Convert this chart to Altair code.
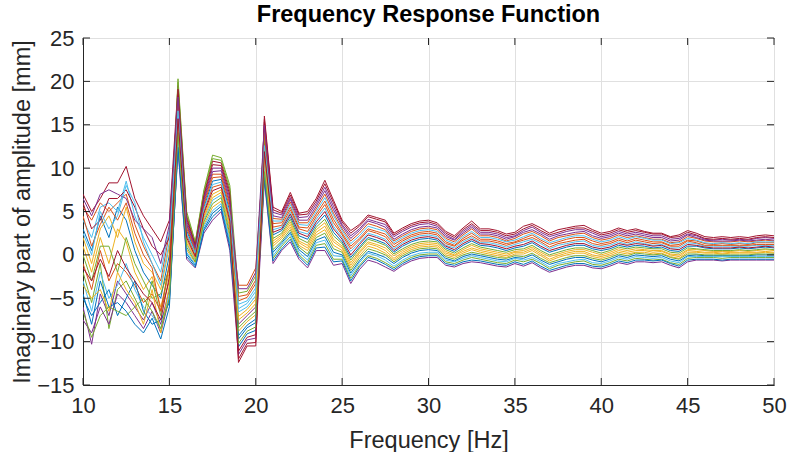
import altair as alt
import pandas as pd

# Frequency grid (Hz)
freq = [10.0, 10.5, 11.0, 11.5, 12.0, 12.5, 13.0, 13.5, 14.0, 14.5,
        15.0, 15.5, 16.0, 16.5, 17.0, 17.5, 18.0, 18.5, 19.0, 19.5,
        20.0, 20.5, 21.0, 21.5, 22.0, 22.5, 23.0, 23.5, 24.0, 24.5,
        25.0, 25.5, 26.0, 26.5, 27.0, 27.5, 28.0, 28.5, 29.0, 29.5,
        30.0, 30.5, 31.0, 31.5, 32.0, 32.5, 33.0, 33.5, 34.0, 34.5,
        35.0, 35.5, 36.0, 36.5, 37.0, 37.5, 38.0, 38.5, 39.0, 39.5,
        40.0, 40.5, 41.0, 41.5, 42.0, 42.5, 43.0, 43.5, 44.0, 44.5,
        45.0, 45.5, 46.0, 46.5, 47.0, 47.5, 48.0, 48.5, 49.0, 49.5, 50.0]

# Imaginary part of amplitude [mm], one list per measured response
line01 = [3.0, 0.5, 4.5, 2.0, 5.5, 4.0, 0.5, -2.0, -3.5, -5.0, 0.0,
          17.0, 2.8, 0.3, 5.5, 8.5, 8.7, 5.0, -9.7, -8.4, -7.8, 13.0,
          2.3, 2.8, 4.4, 2.2, 1.8, 3.5, 4.6, 2.6, 1.5, -0.3, 0.9, 2.0, 1.7, 1.3, 0.3, 1.0, 1.5, 1.8, 1.9, 1.7,
          0.8, 0.4, 1.1, 1.6, 1.1, 1.0, 0.8, 0.5, 0.8, 1.0, 1.4, 0.8, 0.3, 0.6, 0.9, 1.1, 1.1, 0.7, 0.5, 0.7,
          1.1, 0.9, 1.1, 1.0, 0.8, 0.9, 0.5, 0.4, 1.0, 1.0, 0.8, 0.7, 0.7, 0.7, 0.8, 0.7, 0.8, 0.9, 0.8]
line02 = [5.5, 4.0, 6.0, 5.0, 6.0, 7.0, 3.5, 1.0, -1.0, -3.0, 2.5,
          17.8, 3.4, 0.6, 6.0, 9.3, 9.3, 5.8, -5.3, -4.9, -3.3, 14.5,
          4.2, 4.1, 6.1, 3.7, 3.7, 5.3, 7.0, 4.8, 3.0, 1.6, 2.5, 3.6, 3.3, 2.9, 1.6, 2.2, 2.7, 3.0, 3.1, 2.9,
          1.9, 1.5, 2.3, 3.0, 2.2, 2.2, 2.0, 1.6, 1.9, 2.4, 2.7, 2.2, 1.6, 2.0, 2.2, 2.4, 2.5, 2.0, 1.7, 1.9,
          2.3, 2.0, 2.2, 2.0, 1.8, 1.8, 1.4, 1.5, 2.1, 1.9, 1.6, 1.5, 1.5, 1.5, 1.6, 1.5, 1.6, 1.7, 1.6]
line03 = [1.0, -2.0, 2.0, -1.0, 3.0, 1.5, -2.0, -4.0, -2.5, -6.0, -2.0,
          15.3, 1.7, -0.3, 4.5, 7.0, 7.5, 3.5, -7.1, -6.3, -5.1, 11.5,
          1.0, 1.9, 3.2, 1.1, 0.5, 2.3, 2.9, 1.1, 0.5, -1.5, -0.1, 1.0, 0.7, 0.2, -0.6, 0.1, 0.6, 0.9, 1.0, 0.9,
          0.0, -0.3, 0.2, 0.6, 0.3, 0.1, -0.1, -0.3, 0.1, 0.1, 0.5, -0.1, -0.7, -0.3, 0.0, 0.2, 0.2, -0.2, -0.4, -0.1,
          0.3, 0.1, 0.3, 0.3, 0.1, 0.2, -0.2, -0.4, 0.3, 0.3, 0.2, 0.2, 0.1, 0.2, 0.2, 0.2, 0.2, 0.3, 0.2]
line04 = [-6.0, -10.3, -4.5, -7.0, -3.0, -4.5, -6.0, -7.5, -5.5, -8.0, -4.0,
          18.6, 3.9, 0.9, 6.5, 10.0, 10.0, 6.5, -8.0, -7.0, -6.0, 15.3,
          4.9, 4.6, 6.6, 4.3, 4.4, 5.9, 7.8, 5.6, 3.5, 2.2, 3.0, 4.1, 3.8, 3.5, 2.1, 2.7, 3.2, 3.5, 3.6, 3.3,
          2.3, 1.8, 2.7, 3.4, 2.6, 2.6, 2.4, 2.0, 2.2, 2.8, 3.2, 2.6, 2.1, 2.4, 2.7, 2.9, 2.9, 2.5, 2.1, 2.3,
          2.7, 2.4, 2.6, 2.4, 2.2, 2.2, 1.8, 1.9, 2.4, 2.2, 1.8, 1.7, 1.8, 1.7, 1.8, 1.7, 1.9, 2.0, 1.9]
line05 = [-2.0, -5.5, -1.0, -8.5, -4.0, -3.0, -5.0, -7.0, -3.0, -7.0, -1.0,
          20.3, 5.0, 1.5, 7.5, 11.5, 11.2, 8.0, -4.4, -4.2, -2.4, 13.8,
          -0.4, 1.0, 2.1, 0.0, -0.9, 1.1, 1.3, -0.5, -0.5, -2.7, -1.2, -0.1, -0.4, -0.9, -1.5, -0.8, -0.3, 0.0, 0.1, 0.1,
          -0.8, -1.0, -0.6, -0.3, -0.5, -0.7, -0.9, -1.0, -0.6, -0.8, -0.5, -1.0, -1.6, -1.2, -1.0, -0.8, -0.7, -1.1, -1.2, -0.9,
          -0.5, -0.7, -0.4, -0.5, -0.6, -0.5, -0.9, -1.1, -0.4, -0.3, -0.3, -0.3, -0.4, -0.3, -0.3, -0.3, -0.3, -0.3, -0.3]
line06 = [4.0, 2.0, 5.5, 6.0, 5.0, 8.5, 4.5, 2.0, 0.0, -2.0, 3.0,
          14.5, 1.2, -0.6, 4.0, 6.3, 6.9, 2.8, -6.2, -5.6, -4.2, 10.8,
          2.9, 3.2, 4.9, 2.7, 2.4, 4.1, 5.4, 3.3, 2.0, 0.4, 1.4, 2.5, 2.2, 1.8, 0.7, 1.4, 1.9, 2.2, 2.3, 2.1,
          1.1, 0.8, 1.5, 2.0, 1.4, 1.4, 1.2, 0.9, 1.2, 1.5, 1.8, 1.3, 0.7, 1.1, 1.3, 1.5, 1.6, 1.1, 0.9, 1.1,
          1.5, 1.2, 1.5, 1.3, 1.1, 1.2, 0.8, 0.8, 1.4, 1.3, 1.0, 1.0, 1.0, 1.0, 1.0, 1.0, 1.1, 1.1, 1.1]
line07 = [7.0, 5.0, 6.5, 8.3, 8.3, 10.2, 6.5, 4.5, 3.0, 1.5, 4.0,
          19.5, 4.5, 1.2, 7.0, 10.8, 10.6, 7.3, -12.4, -10.5, -10.5, 16.0,
          5.5, 5.0, 7.2, 4.8, 5.0, 6.5, 8.6, 6.3, 4.0, 2.8, 3.5, 4.6, 4.3, 4.0, 2.5, 3.1, 3.6, 3.9, 4.0, 3.7,
          2.7, 2.2, 3.1, 3.9, 3.0, 3.0, 2.8, 2.4, 2.6, 3.3, 3.6, 3.1, 2.5, 2.9, 3.1, 3.3, 3.4, 2.9, 2.5, 2.7,
          3.1, 2.8, 3.0, 2.7, 2.5, 2.5, 2.1, 2.3, 2.8, 2.5, 2.1, 2.0, 2.1, 2.0, 2.1, 2.0, 2.2, 2.3, 2.2]
line08 = [-4.5, -8.0, -3.0, -6.0, -5.5, -6.5, -8.0, -9.0, -7.3, -9.7, -6.0,
          12.8, 0.1, -1.2, 3.0, 4.8, 5.6, 1.3, -10.6, -9.1, -8.7, 9.3,
          0.3, 1.4, 2.6, 0.6, -0.2, 1.7, 2.1, 0.3, 0.0, -2.1, -0.7, 0.4, 0.1, -0.3, -1.0, -0.3, 0.2, 0.5, 0.6, 0.5,
          -0.4, -0.7, -0.2, 0.1, -0.1, -0.3, -0.5, -0.6, -0.3, -0.4, 0.0, -0.6, -1.1, -0.8, -0.5, -0.3, -0.3, -0.6, -0.8, -0.5,
          -0.1, -0.3, 0.0, -0.1, -0.2, -0.1, -0.5, -0.7, -0.1, 0.0, -0.1, -0.1, -0.1, -0.1, -0.1, -0.1, 0.0, 0.0, 0.0]
line09 = [-1.0, -4.0, 0.5, -3.0, -1.0, -2.0, -3.5, -5.5, -4.5, -6.5, -3.0,
          16.2, 2.3, 0.0, 5.0, 7.8, 8.1, 4.3, -3.5, -3.5, -1.5, 12.3,
          3.6, 3.7, 5.5, 3.2, 3.1, 4.7, 6.2, 4.1, 2.5, 1.0, 1.9, 3.0, 2.7, 2.4, 1.2, 1.8, 2.3, 2.6, 2.7, 2.5,
          1.5, 1.1, 1.9, 2.5, 1.8, 1.8, 1.6, 1.3, 1.5, 1.9, 2.3, 1.7, 1.2, 1.5, 1.8, 2.0, 2.0, 1.6, 1.3, 1.5,
          1.9, 1.6, 1.9, 1.7, 1.5, 1.5, 1.1, 1.2, 1.7, 1.6, 1.3, 1.2, 1.3, 1.2, 1.3, 1.2, 1.4, 1.4, 1.4]
line10 = [2.0, -1.0, 3.0, 4.5, 2.0, 5.5, 1.5, -1.0, -2.0, -4.0, 1.0,
          13.7, 0.6, -0.9, 3.5, 5.5, 6.2, 2.0, -8.8, -7.7, -6.9, 10.0,
          1.6, 2.3, 3.8, 1.6, 1.1, 2.9, 3.7, 1.8, 1.0, -0.9, 0.4, 1.5, 1.2, 0.8, -0.1, 0.5, 1.0, 1.3, 1.4, 1.3,
          0.4, 0.0, 0.6, 1.1, 0.7, 0.5, 0.3, 0.1, 0.4, 0.5, 0.9, 0.3, -0.2, 0.1, 0.4, 0.6, 0.6, 0.3, 0.0, 0.3,
          0.7, 0.5, 0.7, 0.6, 0.5, 0.5, 0.1, 0.0, 0.6, 0.6, 0.5, 0.4, 0.4, 0.4, 0.5, 0.4, 0.5, 0.6, 0.5]
line11 = [-7.5, -9.0, -6.0, -8.0, -4.5, -5.5, -7.0, -8.5, -6.5, -9.0, -5.0,
          12.0, -0.5, -1.5, 2.5, 4.0, 5.0, 0.5, -11.5, -9.8, -9.6, 8.5,
          -1.0, 0.5, 1.5, -0.5, -1.5, 0.5, 0.5, -1.2, -1.0, -3.3, -1.7, -0.6, -0.9, -1.4, -1.9, -1.2, -0.7, -0.4, -0.3, -0.3,
          -1.2, -1.4, -1.0, -0.8, -0.9, -1.1, -1.3, -1.4, -1.0, -1.3, -0.9, -1.5, -2.0, -1.7, -1.4, -1.2, -1.2, -1.5, -1.6, -1.3,
          -0.9, -1.1, -0.8, -0.8, -0.9, -0.8, -1.2, -1.5, -0.8, -0.6, -0.6, -0.6, -0.7, -0.6, -0.6, -0.6, -0.6, -0.6, -0.6]
line12 = [0.0, -3.0, 1.0, 1.0, -2.0, 2.0, -1.0, -3.0, -5.0, -4.5, -1.5,
          19.9, 4.7, 1.4, 7.3, 11.1, 10.9, 7.6, -8.4, -7.4, -6.5, 13.4,
          1.9, 2.5, 4.1, 1.9, 1.4, 3.2, 4.1, 2.2, 1.3, -0.6, 0.7, 1.8, 1.5, 1.1, 0.1, 0.7, 1.2, 1.5, 1.6, 1.5,
          0.6, 0.2, 0.8, 1.3, 0.9, 0.7, 0.5, 0.3, 0.6, 0.7, 1.1, 0.5, 0.0, 0.3, 0.6, 0.8, 0.8, 0.5, 0.2, 0.5,
          0.9, 0.7, 0.9, 0.8, 0.7, 0.7, 0.3, 0.2, 0.8, 0.7, 0.6, 0.5, 0.5, 0.5, 0.6, 0.5, 0.6, 0.7, 0.6]
line13 = [-3.0, -6.5, -2.0, -5.0, -3.5, -1.0, -4.0, -6.0, -7.0, -8.5, -4.5,
          13.2, 0.3, -1.1, 3.3, 5.1, 5.9, 1.6, -6.6, -6.0, -4.7, 10.4,
          -0.1, 1.2, 2.4, 0.3, -0.6, 1.4, 1.7, -0.1, -0.2, -2.4, -0.9, 0.2, -0.1, -0.6, -1.3, -0.6, -0.1, 0.2, 0.3, 0.3,
          -0.6, -0.8, -0.4, -0.1, -0.3, -0.5, -0.7, -0.8, -0.4, -0.6, -0.3, -0.8, -1.4, -1.0, -0.8, -0.6, -0.5, -0.9, -1.0, -0.7,
          -0.3, -0.5, -0.2, -0.3, -0.4, -0.3, -0.7, -0.9, -0.2, -0.2, -0.2, -0.2, -0.2, -0.2, -0.2, -0.2, -0.2, -0.2, -0.2]
line14 = [6.0, 3.0, 4.0, 6.5, 6.5, 7.5, 5.5, 3.0, 1.0, 0.0, 2.0,
          19.1, 4.2, 1.1, 6.8, 10.4, 10.3, 6.9, -11.1, -9.5, -9.2, 15.6,
          5.2, 4.8, 6.9, 4.6, 4.7, 6.2, 8.2, 6.0, 3.8, 2.5, 3.3, 4.4, 4.1, 3.8, 2.3, 2.9, 3.4, 3.7, 3.8, 3.5,
          2.5, 2.0, 2.9, 3.6, 2.8, 2.8, 2.6, 2.2, 2.4, 3.0, 3.4, 2.8, 2.3, 2.6, 2.9, 3.1, 3.1, 2.7, 2.3, 2.5,
          2.9, 2.6, 2.8, 2.6, 2.4, 2.4, 2.0, 2.1, 2.6, 2.3, 1.9, 1.8, 1.9, 1.8, 1.9, 1.8, 2.0, 2.1, 2.0]
line15 = [-5.0, -7.0, -5.5, -4.0, -7.0, -5.0, -3.0, -6.5, -8.0, -7.5, -5.5,
          12.4, -0.2, -1.4, 2.8, 4.4, 5.3, 0.9, -9.3, -8.1, -7.4, 8.9,
          -0.7, 0.7, 1.8, -0.2, -1.2, 0.8, 0.9, -0.8, -0.7, -3.0, -1.4, -0.3, -0.6, -1.1, -1.7, -1.0, -0.5, -0.2, -0.1, -0.1,
          -1.0, -1.2, -0.8, -0.6, -0.7, -0.9, -1.1, -1.2, -0.8, -1.1, -0.7, -1.3, -1.8, -1.5, -1.2, -1.0, -1.0, -1.3, -1.4, -1.1,
          -0.7, -0.9, -0.6, -0.6, -0.7, -0.6, -1.0, -1.3, -0.6, -0.5, -0.5, -0.5, -0.6, -0.5, -0.5, -0.5, -0.5, -0.5, -0.5]
line16 = [4.5, 1.0, 3.5, 5.5, 4.0, 6.0, 2.5, 0.0, -1.5, -6.5, -1.0,
          17.4, 3.1, 0.5, 5.8, 8.9, 9.0, 5.4, -4.8, -4.6, -2.9, 14.1,
          3.2, 3.4, 5.2, 3.0, 2.7, 4.4, 5.8, 3.7, 2.3, 0.7, 1.7, 2.8, 2.5, 2.1, 0.9, 1.6, 2.1, 2.4, 2.5, 2.3,
          1.3, 1.0, 1.7, 2.2, 1.6, 1.6, 1.4, 1.1, 1.4, 1.7, 2.0, 1.5, 0.9, 1.3, 1.5, 1.7, 1.8, 1.3, 1.1, 1.3,
          1.7, 1.4, 1.7, 1.5, 1.3, 1.4, 1.0, 1.0, 1.6, 1.4, 1.1, 1.1, 1.1, 1.1, 1.1, 1.1, 1.2, 1.2, 1.2]
line17 = [-3.5, -5.0, -4.0, -6.5, -2.0, -4.0, -5.5, -8.0, -4.0, -9.0, -3.5,
          14.9, 1.4, -0.5, 4.3, 6.6, 7.2, 3.1, -7.5, -6.7, -5.6, 11.1,
          1.3, 2.1, 3.5, 1.4, 0.8, 2.6, 3.3, 1.5, 0.8, -1.2, 0.2, 1.3, 1.0, 0.5, -0.4, 0.3, 0.8, 1.1, 1.2, 1.1,
          0.2, -0.1, 0.4, 0.8, 0.5, 0.3, 0.1, -0.1, 0.3, 0.3, 0.7, 0.1, -0.5, -0.1, 0.2, 0.4, 0.4, 0.0, -0.2, 0.1,
          0.5, 0.3, 0.5, 0.5, 0.3, 0.4, 0.0, -0.2, 0.5, 0.4, 0.3, 0.3, 0.2, 0.3, 0.3, 0.3, 0.3, 0.4, 0.3]
line18 = [6.5, 4.5, 7.0, 7.5, 7.0, 6.5, 4.0, 3.0, 2.0, -1.0, 3.5,
          18.2, 3.6, 0.8, 6.3, 9.6, 9.7, 6.1, -3.9, -3.9, -2.0, 14.9,
          4.5, 4.3, 6.4, 4.0, 4.0, 5.6, 7.4, 5.2, 3.3, 1.9, 2.8, 3.9, 3.6, 3.2, 1.8, 2.4, 2.9, 3.2, 3.3, 3.1,
          2.1, 1.7, 2.5, 3.2, 2.4, 2.4, 2.2, 1.8, 2.1, 2.6, 2.9, 2.4, 1.8, 2.2, 2.4, 2.6, 2.7, 2.2, 1.9, 2.1,
          2.5, 2.2, 2.4, 2.2, 2.0, 2.0, 1.6, 1.7, 2.3, 2.0, 1.7, 1.6, 1.6, 1.6, 1.7, 1.6, 1.7, 1.8, 1.7]
line19 = [-6.5, -9.5, -7.0, -6.0, -6.5, -7.0, -6.0, -5.0, -6.5, -8.5, -5.0,
          14.1, 0.9, -0.8, 3.8, 5.9, 6.6, 2.4, -10.2, -8.8, -8.3, 9.6,
          0.6, 1.6, 2.9, 0.9, 0.1, 2.0, 2.5, 0.7, 0.3, -1.8, -0.4, 0.7, 0.4, 0.0, -0.8, -0.1, 0.4, 0.7, 0.8, 0.7,
          -0.2, -0.5, 0.0, 0.3, 0.1, -0.1, -0.3, -0.4, -0.1, -0.2, 0.2, -0.4, -0.9, -0.6, -0.3, -0.1, -0.1, -0.4, -0.6, -0.3,
          0.1, -0.1, 0.2, 0.1, 0.0, 0.1, -0.3, -0.5, 0.1, 0.1, 0.0, 0.0, 0.0, 0.0, 0.0, 0.0, 0.1, 0.1, 0.1]
line20 = [2.5, 0.0, 5.0, 3.0, 4.5, 8.0, 6.0, 1.5, -1.0, -3.5, 1.5,
          16.6, 2.5, 0.2, 5.3, 8.1, 8.4, 4.6, -5.7, -5.3, -3.8, 12.6,
          3.9, 3.9, 5.8, 3.5, 3.4, 5.0, 6.6, 4.5, 2.8, 1.3, 2.2, 3.3, 3.0, 2.7, 1.4, 2.0, 2.5, 2.8, 2.9, 2.7,
          1.7, 1.3, 2.1, 2.7, 2.0, 2.0, 1.8, 1.5, 1.7, 2.1, 2.5, 1.9, 1.4, 1.7, 2.0, 2.2, 2.2, 1.8, 1.5, 1.7,
          2.1, 1.8, 2.1, 1.9, 1.7, 1.7, 1.3, 1.4, 1.9, 1.7, 1.4, 1.3, 1.4, 1.3, 1.4, 1.3, 1.5, 1.5, 1.5]
line21 = [-1.5, -3.0, -0.5, -2.5, 0.5, -1.5, -3.0, -4.5, -5.5, -7.5, -2.5,
          15.7, 2.0, -0.2, 4.8, 7.4, 7.8, 3.9, -12.0, -10.2, -10.1, 11.9,
          2.6, 3.0, 4.7, 2.5, 2.1, 3.8, 5.0, 3.0, 1.8, 0.0, 1.2, 2.3, 2.0, 1.6, 0.5, 1.2, 1.7, 2.0, 2.1, 1.9,
          1.0, 0.6, 1.3, 1.8, 1.3, 1.2, 1.0, 0.7, 1.0, 1.2, 1.6, 1.0, 0.5, 0.8, 1.1, 1.3, 1.3, 0.9, 0.7, 0.9,
          1.3, 1.1, 1.3, 1.2, 1.0, 1.1, 0.7, 0.6, 1.2, 1.1, 0.9, 0.8, 0.8, 0.8, 0.9, 0.8, 0.9, 1.0, 0.9]

series = [line01, line02, line03, line04, line05, line06, line07, line08, line09, line10, line11,
          line12, line13, line14, line15, line16, line17, line18, line19, line20, line21]
names = ["L01", "L02", "L03", "L04", "L05", "L06", "L07", "L08", "L09", "L10", "L11",
         "L12", "L13", "L14", "L15", "L16", "L17", "L18", "L19", "L20", "L21"]
# MATLAB default colour order, repeated
line_colors = ["#0072BD", "#D95319", "#EDB120", "#7E2F8E", "#77AC30", "#4DBEEE", "#A2142F",
               "#0072BD", "#D95319", "#EDB120", "#7E2F8E", "#77AC30", "#4DBEEE", "#A2142F",
               "#0072BD", "#D95319", "#EDB120", "#7E2F8E", "#77AC30", "#4DBEEE", "#A2142F"]

x_ticks = [10, 15, 20, 25, 30, 35, 40, 45, 50]
y_ticks = [-15, -10, -5, 0, 5, 10, 15, 20, 25]

rows = []
for name, vals in zip(names, series):
    if len(vals) != len(freq):
        raise ValueError(f"{name} has {len(vals)} values")
    for f, v in zip(freq, vals):
        rows.append({"freq": f, "val": v, "line": name})
df = pd.DataFrame(rows)

W, H = 691, 347
FONT = "Liberation Sans"
AX = "#262626"
TL = 7

xs = alt.Scale(domain=[10, 50], nice=False, zero=False)
ys = alt.Scale(domain=[-15, 25], nice=False, zero=False)

x_axis = alt.Axis(values=x_ticks, title="Frequency [Hz]", grid=True, ticks=False,
                  labelPadding=10, labelFontSize=22, titleFontSize=23.5,
                  titleFontWeight="normal", titleBaseline="alphabetic",
                  titleY=62, titleX=W / 2, titleAlign="center")
y_axis = alt.Axis(values=y_ticks, title="Imaginary part of amplitude [mm]", grid=True,
                  ticks=False, labelPadding=9, labelFontSize=22, titleFontSize=23.5,
                  titleFontWeight="normal", titleBaseline="alphabetic",
                  titleX=-54, titleY=H / 2, titleAlign="center", titleAngle=270)

lines = alt.Chart(df).mark_line(strokeWidth=1.0, clip=True).encode(
    x=alt.X("freq:Q", scale=xs, axis=x_axis),
    y=alt.Y("val:Q", scale=ys, axis=y_axis),
    color=alt.Color("line:N", scale=alt.Scale(domain=names, range=line_colors), legend=None),
)

xt = pd.DataFrame({"freq": x_ticks})
yt = pd.DataFrame({"val": y_ticks})

tick_bottom = alt.Chart(xt).mark_rule(color=AX, strokeWidth=1).encode(
    x=alt.X("freq:Q", scale=xs, axis=x_axis), y=alt.value(H), y2=alt.value(H - TL))
tick_top = alt.Chart(xt).mark_rule(color=AX, strokeWidth=1).encode(
    x=alt.X("freq:Q", scale=xs, axis=x_axis), y=alt.value(0), y2=alt.value(TL))
tick_left = alt.Chart(yt).mark_rule(color=AX, strokeWidth=1).encode(
    y=alt.Y("val:Q", scale=ys, axis=y_axis), x=alt.value(0), x2=alt.value(TL))
tick_right = alt.Chart(yt).mark_rule(color=AX, strokeWidth=1).encode(
    y=alt.Y("val:Q", scale=ys, axis=y_axis), x=alt.value(W - TL), x2=alt.value(W))

chart = alt.layer(lines, tick_bottom, tick_top, tick_left, tick_right).properties(
    width=W, height=H,
    title=alt.TitleParams("Frequency Response Function", font=FONT, fontSize=23.5,
                          fontWeight="bold", color="#000000", anchor="middle",
                          baseline="alphabetic", offset=-18.5),
    padding={"left": 83, "top": 38, "right": 16, "bottom": 67},
    autosize=alt.AutoSizeParams(type="none"),
).configure(
    font=FONT,
    background="white",
).configure_view(
    stroke=AX, strokeWidth=1,
).configure_axis(
    labelFont=FONT, titleFont=FONT, labelColor=AX, titleColor=AX,
    domainColor=AX, domainWidth=1, gridColor="#e0e0e0", gridWidth=1,
    labelFlush=False, labelOverlap=False,
)

chart.save("out.html", embed_options={"renderer": "svg", "actions": False})
